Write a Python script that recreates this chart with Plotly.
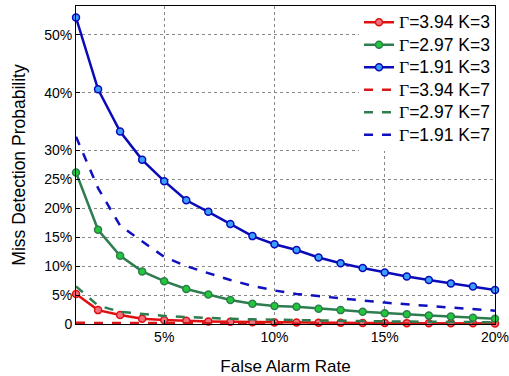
import plotly.graph_objects as go

far = list(range(1, 21))  # False alarm rate, %

blue_k3 = [53.0, 40.6, 33.3, 28.4, 24.7, 21.4, 19.4, 17.3, 15.2, 13.8, 12.8, 11.5, 10.5, 9.7, 8.9, 8.2, 7.6, 7.0, 6.5, 5.9]
green_k3 = [26.2, 16.3, 11.8, 9.1, 7.4, 6.05, 5.1, 4.15, 3.5, 3.1, 3.0, 2.65, 2.4, 2.1, 1.85, 1.7, 1.45, 1.3, 1.1, 0.9]
red_k3 = [5.2, 2.4, 1.55, 0.9, 0.7, 0.55, 0.45, 0.38, 0.32, 0.28, 0.25, 0.22, 0.2, 0.18, 0.16, 0.15, 0.13, 0.12, 0.11, 0.1]
blue_k7 = [32.4, 23.5, 17.0, 14.3, 11.6, 10.0, 8.8, 7.6, 6.6, 5.8, 5.2, 4.8, 4.4, 4.0, 3.7, 3.4, 3.1, 2.8, 2.6, 2.3]
green_k7 = [6.5, 3.2, 2.1, 1.7, 1.4, 1.2, 1.0, 0.9, 0.8, 0.72, 0.65, 0.6, 0.55, 0.5, 0.45, 0.42, 0.39, 0.36, 0.33, 0.3]
red_k7 = [0.2, 0.18, 0.16, 0.15, 0.14, 0.13, 0.12, 0.11, 0.1, 0.1, 0.09, 0.09, 0.08, 0.08, 0.07, 0.07, 0.06, 0.06, 0.05, 0.05]

names = ["=3.94 K=3", "=2.97 K=3", "=1.91 K=3", "=3.94 K=7", "=2.97 K=7", "=1.91 K=7"]

ytickvals = [0, 5, 10, 15, 20, 25, 30, 40, 50]
yticktext = ["0", "5%", "10%", "15%", "20%", "25%", "30%", "40%", "50%"]
xtickvals = [5, 10, 15, 20]
xticktext = ["5%", "10%", "15%", "20%"]


def label(n):
    return ("<span style='font-size:17.5px'>"
            "<span style='font-family:Liberation Serif'>\u0393</span>"
            + n + "</span>")


fig = go.Figure()

solid = [
    (red_k3, "#e01010", "#f07080"),
    (green_k3, "#2e7d4f", "#22c83a"),
    (blue_k3, "#0a0ab8", "#3aa0ff"),
]
for i, (ys, lc, mc) in enumerate(solid):
    fig.add_trace(go.Scatter(
        x=far, y=ys, mode="lines+markers", name=label(names[i]),
        line=dict(color=lc, width=2.5),
        marker=dict(size=7, color=mc, line=dict(color=lc, width=1.5)),
        cliponaxis=False,
    ))

dashed = [
    (red_k7, "#d81818"),
    (green_k7, "#2e7d4f"),
    (blue_k7, "#1010c0"),
]
for i, (ys, lc) in enumerate(dashed):
    fig.add_trace(go.Scatter(
        x=far, y=ys, mode="lines", name=label(names[i + 3]),
        line=dict(color=lc, width=2.5, dash="dash"),
    ))

fig.update_layout(
    width=509, height=376,
    margin=dict(l=76, r=14, t=6, b=52),
    paper_bgcolor="white", plot_bgcolor="white",
    font=dict(family="Arial, Liberation Sans", size=14, color="black"),
    legend=dict(
        x=1.0, xanchor="right", y=1.0, yanchor="top",
        bgcolor="white", borderwidth=0,
        font=dict(size=15), tracegroupgap=0, itemwidth=30,
    ),
    showlegend=True,
)
fig.update_xaxes(
    range=[1, 20], tickvals=xtickvals, ticktext=xticktext,
    ticklabeloverflow="allow", automargin=False,
    showgrid=True, gridcolor="#888888", griddash="dot", gridwidth=1,
    showline=True, linecolor="black", mirror=True, linewidth=1,
    ticks="inside", ticklen=4, tickcolor="black", zeroline=False,
    title=dict(text="False Alarm Rate", font=dict(size=17), standoff=20),
)
fig.update_yaxes(
    range=[0, 55], tickvals=ytickvals, ticktext=yticktext,
    ticklabeloverflow="allow", automargin=False,
    showgrid=True, gridcolor="#888888", griddash="dot", gridwidth=1,
    showline=True, linecolor="black", mirror=True, linewidth=1,
    ticks="inside", ticklen=4, tickcolor="black", zeroline=False,
    title=dict(text="Miss Detection Probability", font=dict(size=17.5), standoff=14),
)

fig.write_html("out.html")
